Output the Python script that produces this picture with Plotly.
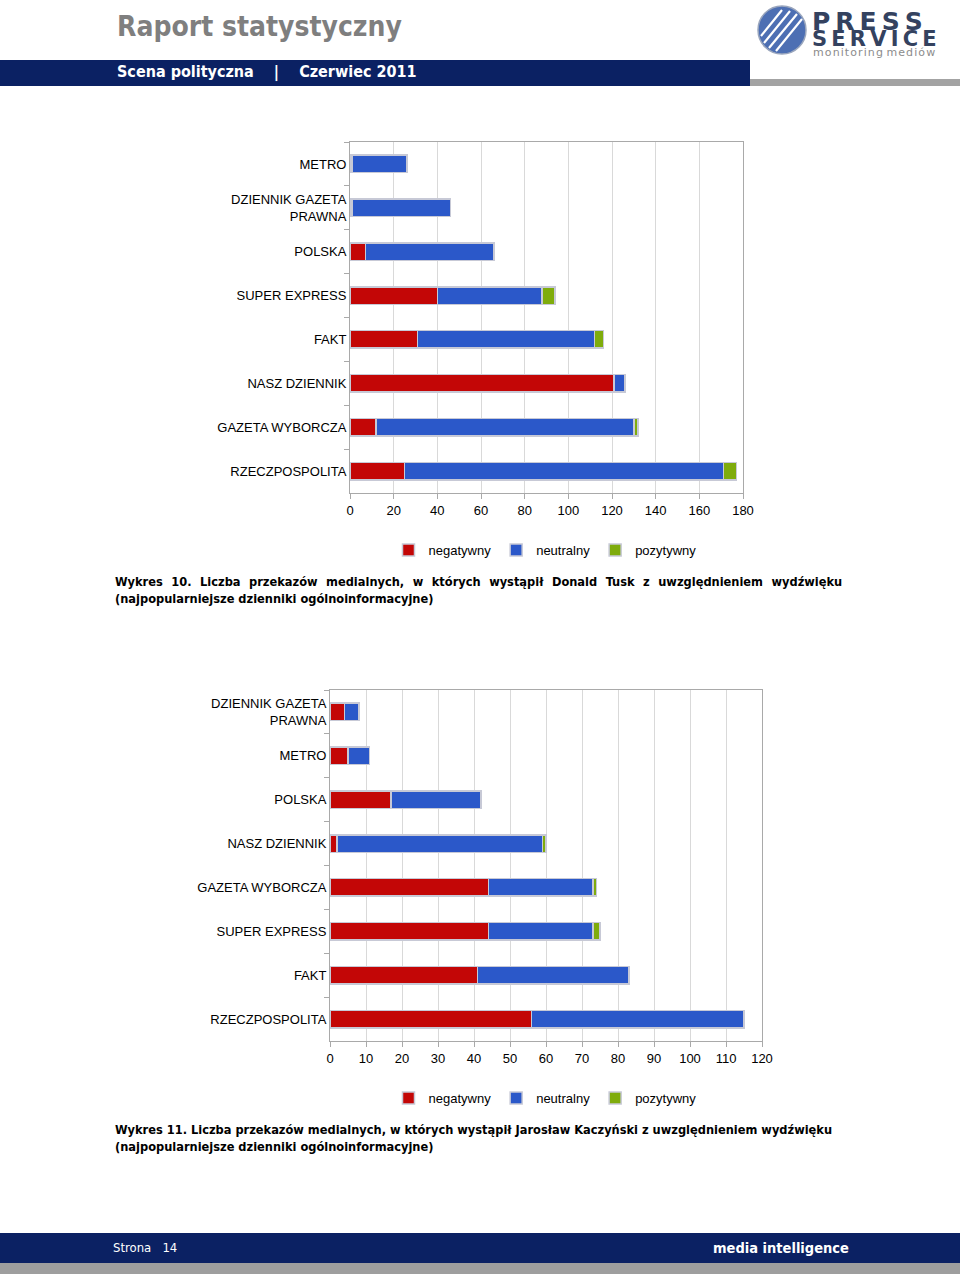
import plotly.graph_objects as go

W, H = 960, 1274

# ---------------- data ----------------
series_names = ["negatywny", "neutralny", "pozytywny"]

tusk_outlets = ["METRO", "DZIENNIK GAZETA<br>PRAWNA", "POLSKA", "SUPER EXPRESS",
                "FAKT", "NASZ DZIENNIK", "GAZETA WYBORCZA", "RZECZPOSPOLITA"]
tusk_neg = [1, 1, 7, 40, 31, 121, 12, 25]
tusk_neu = [25, 45, 59, 48, 81, 5, 118, 146]
tusk_pos = [0, 0, 0, 6, 4, 0, 2, 6]

kacz_outlets = ["DZIENNIK GAZETA<br>PRAWNA", "METRO", "POLSKA", "NASZ DZIENNIK",
                "GAZETA WYBORCZA", "SUPER EXPRESS", "FAKT", "RZECZPOSPOLITA"]
kacz_neg = [4, 5, 17, 2, 44, 44, 41, 56]
kacz_neu = [4, 6, 25, 57, 29, 29, 42, 59]
kacz_pos = [0, 0, 0, 1, 1, 2, 0, 0]

tusk_ticks = [0, 20, 40, 60, 80, 100, 120, 140, 160, 180]
kacz_ticks = [0, 10, 20, 30, 40, 50, 60, 70, 80, 90, 100, 110, 120]

caption1_l1 = "Wykres 10. Liczba przekazów medialnych, w których wystąpił Donald Tusk z uwzględnieniem wydźwięku"
caption1_l2 = "(najpopularniejsze dzienniki ogólnoinformacyjne)"
caption2_l1 = "Wykres 11. Liczba przekazów medialnych, w których wystąpił Jarosław Kaczyński z uwzględnieniem wydźwięku"
caption2_l2 = "(najpopularniejsze dzienniki ogólnoinformacyjne)"

# ---------------- style ----------------
colors = ["#c30606", "#2b58c9", "#7fac0c"]
bar_line = dict(color="#c7c9d6", width=1.5)
NAVY = "#0b2163"
FONT = "Liberation Sans, Arial, sans-serif"
CAP_FONT = "DejaVu Sans Condensed, DejaVu Sans, sans-serif"


def px(x):
    return x / W


def py(y):
    return 1 - y / H


def nz(vals):
    return [v if v else None for v in vals]


def justify(line):
    # widen word gaps slightly to imitate the justified paragraph of the reference
    return " \u2009\u200a\u200a".join(line.split(" "))


fig = go.Figure()

for name, vals, col in zip(series_names, [tusk_neg, tusk_neu, tusk_pos], colors):
    fig.add_trace(go.Bar(orientation="h", x=nz(vals), y=tusk_outlets, name=name,
                         marker=dict(color=col, line=bar_line), xaxis="x", yaxis="y",
                         legend="legend", hoverinfo="x+y+name"))

for name, vals, col in zip(series_names, [kacz_neg, kacz_neu, kacz_pos], colors):
    fig.add_trace(go.Bar(orientation="h", x=nz(vals), y=kacz_outlets, name=name,
                         marker=dict(color=col, line=bar_line), xaxis="x2", yaxis="y2",
                         legend="legend2", hoverinfo="x+y+name"))

axis_common = dict(showline=True, linecolor="#a9a9a9", linewidth=1, mirror=True,
                   ticks="outside", tickcolor="#a9a9a9", ticklen=5, automargin=False,
                   tickfont=dict(family=FONT, size=13, color="#000000"), fixedrange=True)

legend_common = dict(orientation="h", xanchor="center", yanchor="middle",
                     font=dict(family=FONT, size=13, color="#000000"),
                     bgcolor="rgba(0,0,0,0)", itemwidth=30, traceorder="normal")

fig.update_layout(
    width=W, height=H,
    margin=dict(l=0, r=0, t=0, b=0, pad=0, autoexpand=False),
    paper_bgcolor="white", plot_bgcolor="white",
    barmode="stack", bargap=0.6,
    font=dict(family=FONT, size=13, color="#000000"),
    xaxis=dict(domain=[px(350), px(743)], anchor="y", range=[0, 180],
               tickvals=tusk_ticks, showgrid=True, gridcolor="#d9d9d9", zeroline=False,
               **axis_common),
    yaxis=dict(domain=[py(493), py(142)], anchor="x", type="category",
               autorange="reversed", tickson="boundaries", showgrid=False, **axis_common),
    xaxis2=dict(domain=[px(330), px(762)], anchor="y2", range=[0, 120],
                tickvals=kacz_ticks, showgrid=True, gridcolor="#d9d9d9", zeroline=False,
                **axis_common),
    yaxis2=dict(domain=[py(1041), py(690)], anchor="x2", type="category",
                autorange="reversed", tickson="boundaries", showgrid=False, **axis_common),
    legend=dict(x=px(545), y=py(550), **legend_common),
    legend2=dict(x=px(545), y=py(1098), **legend_common),
    showlegend=True,
)

shapes = []
# header bars
shapes.append(dict(type="rect", xref="paper", yref="paper", x0=px(0), x1=px(750),
                   y0=py(86), y1=py(60), fillcolor=NAVY, line=dict(width=0), layer="below"))
shapes.append(dict(type="rect", xref="paper", yref="paper", x0=px(750), x1=px(960),
                   y0=py(86), y1=py(79), fillcolor="#a3a3a3", line=dict(width=0), layer="below"))
# footer bars
shapes.append(dict(type="rect", xref="paper", yref="paper", x0=px(0), x1=px(960),
                   y0=py(1263), y1=py(1233), fillcolor=NAVY, line=dict(width=0), layer="below"))
shapes.append(dict(type="rect", xref="paper", yref="paper", x0=px(0), x1=px(960),
                   y0=py(1274), y1=py(1263), fillcolor="#9e9e9e", line=dict(width=0), layer="below"))
# logo circle
cx, cy, r = 782, 30, 24
shapes.append(dict(type="circle", xref="paper", yref="paper", x0=px(cx - r), x1=px(cx + r),
                   y0=py(cy + r), y1=py(cy - r), fillcolor="#4d6fb3",
                   line=dict(color="#9aa6bd", width=1.5)))
# white stripes in the logo
for (x0, y0, x1, y1) in [(761, 36, 782, 10), (764, 43, 790, 11), (769, 48, 797, 14), (776, 51, 802, 19)]:
    shapes.append(dict(type="line", xref="paper", yref="paper", x0=px(x0), y0=py(y0),
                       x1=px(x1), y1=py(y1), line=dict(color="white", width=2.2)))
fig.update_layout(shapes=shapes)

logo_text = ("<span style='font-size:25px'><b>P\u2009R\u2009E\u2009S\u2009S</b></span><br>"
             "<span style='font-size:21px'><b>S\u2009E\u2009R\u2009V\u2009I\u2009C\u2009E</b></span>")
logo_sub = "\u200a".join(list("monitoring")) + " " + "\u200a".join(list("mediów"))

annotations = [
    dict(text="<b>Raport statystyczny</b>", x=px(115), y=py(27), xanchor="left", yanchor="middle",
         font=dict(family="DejaVu Sans Condensed, DejaVu Sans", size=28, color="#7f7f7f")),
    dict(text="<b>Scena polityczna    |    Czerwiec 2011</b>", x=px(115), y=py(72), xanchor="left",
         yanchor="middle", font=dict(family="DejaVu Sans Condensed, DejaVu Sans", size=16, color="white")),
    dict(text=logo_text, x=px(810), y=py(53), xanchor="left", yanchor="bottom", align="left",
         font=dict(family="DejaVu Sans, sans-serif", size=12.3, color="#34425f")),
    dict(text=logo_sub, x=px(811), y=py(53), xanchor="left", yanchor="middle", align="left",
         font=dict(family="DejaVu Sans, sans-serif", size=11, color="#8c8c8c")),
    dict(text="<b>" + justify(caption1_l1) + "<br>" + caption1_l2 + "</b>", x=px(113), y=py(572),
         xanchor="left", yanchor="top", align="left",
         font=dict(family=CAP_FONT, size=12.7, color="#000000")),
    dict(text="<b>" + caption2_l1 + "<br>" + caption2_l2 + "</b>", x=px(113), y=py(1120),
         xanchor="left", yanchor="top", align="left",
         font=dict(family=CAP_FONT, size=12.7, color="#000000")),
    dict(text="Strona   14", x=px(111), y=py(1247), xanchor="left", yanchor="middle",
         font=dict(family="DejaVu Sans Condensed, DejaVu Sans", size=13, color="white")),
    dict(text="<b>media intelligence</b>", x=px(851), y=py(1248), xanchor="right", yanchor="middle",
         font=dict(family="DejaVu Sans Condensed, DejaVu Sans", size=14.5, color="white")),
]
for a in annotations:
    a.update(xref="paper", yref="paper", showarrow=False)
fig.update_layout(annotations=annotations)

fig.write_html("out.html", config={"displayModeBar": False},
               post_script="document.body.style.margin='0';document.body.style.overflow='hidden';")
